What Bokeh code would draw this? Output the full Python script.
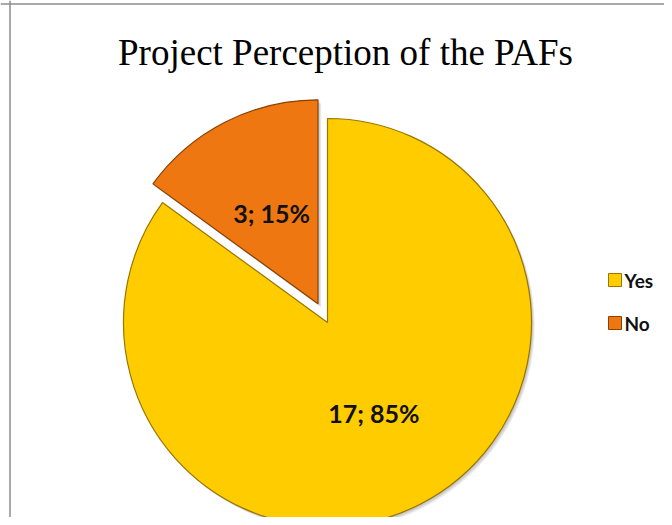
import numpy as np
from bokeh.plotting import figure
from bokeh.models import Range1d, Span
from bokeh.core.properties import value
from bokeh.embed import file_html
from bokeh.resources import INLINE

# ---- data ----
categories = ["Yes", "No"]
counts = [17, 3]
colors = ["#FFCC00", "#EE7711"]
rim_colors = ["#9A7500", "#8A4200"]
explode = [0, 21]
title_text = "Project Perception of the PAFs"

total = sum(counts)
fracs = [c / total for c in counts]
labels = [f"{c}; {round(f * 100)}%" for c, f in zip(counts, fracs)]

# ---- figure: data coords == picture px (y negated) ----
p = figure(width=664, height=517, x_range=Range1d(0, 664), y_range=Range1d(-517, 0),
           output_backend="svg", toolbar_location=None, min_border=0,
           x_axis_location=None, y_axis_location=None)
p.grid.visible = False
p.outline_line_color = None
p.background_fill_color = "white"
p.border_fill_color = "white"

cx, cy, r = 327, -322, 204

starts, ends, xs, ys, lxs, lys = [], [], [], [], [], []
a = np.pi / 2
for f, ex in zip(fracs, explode):
    s = a
    e = a - f * 2 * np.pi
    mid = (s + e) / 2
    ox = cx + ex * np.cos(mid)
    oy = cy + ex * np.sin(mid)
    starts.append(s); ends.append(e); xs.append(ox); ys.append(oy)
    lxs.append(ox + 0.5 * r * np.cos(mid)); lys.append(oy + 0.5 * r * np.sin(mid))
    a = e

# soft shadow
for k in range(1, 5):
    p.wedge(x=[x + k * 0.8 for x in xs], y=[y - k * 0.9 for y in ys], radius=r,
            start_angle=starts, end_angle=ends, direction="clock",
            fill_color="#000000", fill_alpha=0.07, line_color=None)

p.wedge(x=xs, y=ys, radius=r, start_angle=starts, end_angle=ends, direction="clock",
        fill_color=colors, line_color=rim_colors, line_width=1.2)

p.text(x=lxs, y=lys, text=labels, text_font=value("Lato"), text_font_style="bold",
       text_font_size="25px", text_align="center", text_baseline="middle", text_color="#111111")

# title
p.text(x=[345], y=[-52], text=[title_text], text_font=value("Liberation Serif"),
       text_font_size="37px", text_align="center", text_baseline="middle", text_color="#000000")

# legend
leg_x = 614.5
leg_ys = [-279.5 - i * 43 for i in range(len(categories))]
p.rect(x=[leg_x] * len(categories), y=leg_ys, width=13, height=13,
       fill_color=colors, line_color=rim_colors, line_width=1)
p.text(x=[624] * len(categories), y=leg_ys, text=categories, text_font=value("Lato"),
       text_font_style="bold", text_font_size="19px", text_align="left",
       text_baseline="middle", text_color="#111111")

# chart border (left and top visible)
p.add_layout(Span(location=9.5, dimension="height", line_color="#8c8c8c", line_width=1.5))
p.add_layout(Span(location=-3.5, dimension="width", line_color="#8c8c8c", line_width=1.5))

open("out.html", "w").write(file_html(p, INLINE))
